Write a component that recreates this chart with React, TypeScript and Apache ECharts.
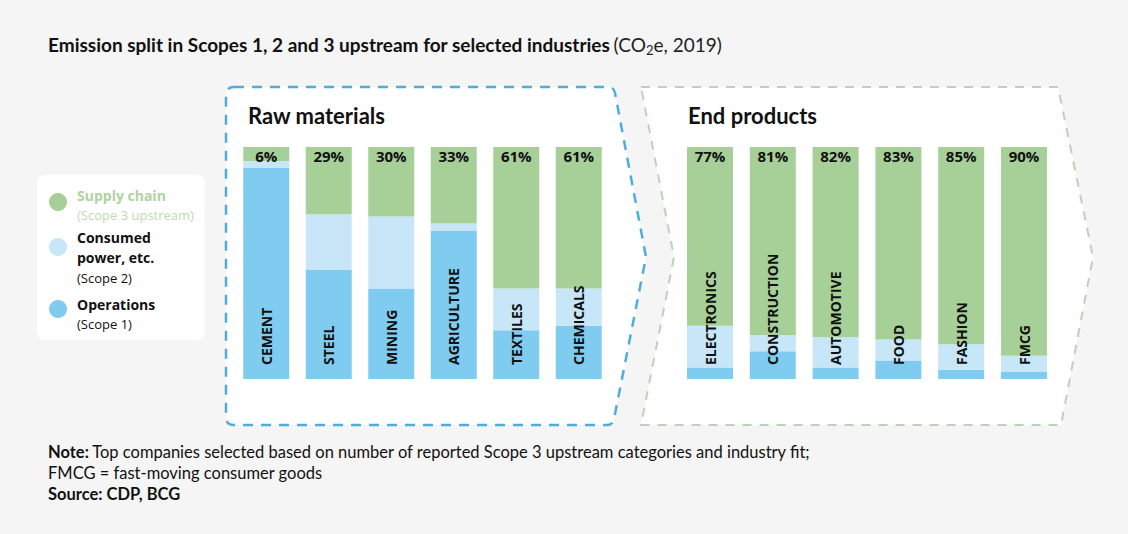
import React, { useEffect, useRef } from "react";
import * as echarts from "echarts";

const rawCats = ["CEMENT", "STEEL", "MINING", "AGRICULTURE", "TEXTILES", "CHEMICALS"];
const rawScope3 = [6, 29, 30, 33, 61, 61];
const rawScope2 = [3, 24, 31, 3, 18, 16];
const rawScope1 = [91, 47, 39, 64, 21, 23];

const endCats = ["ELECTRONICS", "CONSTRUCTION", "AUTOMOTIVE", "FOOD", "FASHION", "FMCG"];
const endScope3 = [77, 81, 82, 83, 85, 90];
const endScope2 = [18, 7, 13, 9, 11, 7];
const endScope1 = [5, 12, 5, 8, 4, 3];

const GREEN = "#a6d098";
const LIGHT = "#c7e6f8";
const BLUE = "#80cbf0";

const rawPath =
  "M 234 87 L 608 87 Q 614 87 615 93 L 646 257 L 614 419 Q 613 425 607 425 L 234 425 Q 226 425 226 417 L 226 95 Q 226 87 234 87 Z";
const endPath = "M 641 87 L 1058 87 L 1093 257 L 1061 425 L 641 425 L 674 257 Z";

let registered = false;
function registerShapes() {
  if (registered) return;
  echarts.graphic.registerShape("rawPanel", echarts.graphic.extendPath(rawPath, {}) as any);
  echarts.graphic.registerShape("endPanel", echarts.graphic.extendPath(endPath, {}) as any);
  registered = true;
}

export default function App() {
  const ref = useRef<HTMLDivElement>(null);
  useEffect(() => {
    document.body.style.margin = "0";
    registerShapes();
    const chart = echarts.init(ref.current!, null, { renderer: "svg" });
    const xAxisBase = (cats: string[], gridIndex: number) => ({
      type: "category",
      data: cats,
      gridIndex,
      z: 10,
      axisLine: { show: false },
      axisTick: { show: false },
      axisLabel: {
        inside: true,
        rotate: 90,
        margin: 14,
        fontFamily: "Open Sans",
        fontWeight: "bold",
        fontSize: 14,
        color: "#111",
      },
    });
    const yAxisBase = (gridIndex: number) => ({
      type: "value",
      gridIndex,
      min: 0,
      max: 100,
      show: false,
    });
    const pctLabel = {
      show: true,
      position: "insideTop",
      distance: 1,
      formatter: "{c}%",
      fontFamily: "Open Sans",
      fontWeight: "bold",
      fontSize: 15,
      color: "#111",
    };
    const mk = (name: string, data: number[], color: string, idx: number, stack: string, label?: any) => ({
      type: "bar",
      name,
      data,
      stack,
      xAxisIndex: idx,
      yAxisIndex: idx,
      barWidth: 46,
      itemStyle: { color },
      label: label || { show: false },
      emphasis: { disabled: true },
    });
    const font = "Lato";
    const noteSize = 16.5;
    chart.setOption({
      animation: false,
      backgroundColor: "#f5f5f5",
      grid: [
        { left: 235, top: 147, width: 375, height: 232 },
        { left: 678.6, top: 147, width: 376.8, height: 232 },
      ],
      xAxis: [xAxisBase(rawCats, 0), xAxisBase(endCats, 1)],
      yAxis: [yAxisBase(0), yAxisBase(1)],
      series: [
        mk("Operations (Scope 1)", rawScope1, BLUE, 0, "raw"),
        mk("Consumed power, etc. (Scope 2)", rawScope2, LIGHT, 0, "raw"),
        mk("Supply chain (Scope 3 upstream)", rawScope3, GREEN, 0, "raw", pctLabel),
        mk("Operations (Scope 1)", endScope1, BLUE, 1, "end"),
        mk("Consumed power, etc. (Scope 2)", endScope2, LIGHT, 1, "end"),
        mk("Supply chain (Scope 3 upstream)", endScope3, GREEN, 1, "end", pctLabel),
      ],
      graphic: [
        {
          type: "endPanel",
          x: 0,
          y: 0,
          z: 0,
          silent: true,
          style: { fill: "#ffffff", stroke: "#bcd4b6", lineWidth: 2, lineDash: [9, 8] },
        },
        {
          type: "rawPanel",
          x: 0,
          y: 0,
          z: 1,
          silent: true,
          style: { fill: "#ffffff", stroke: "#4eaedb", lineWidth: 2.5, lineDash: [10, 8] },
        },
        {
          type: "text",
          x: 48,
          y: 44,
          z: 5,
          style: {
            text: "{b|Emission split in Scopes 1, 2 and 3 upstream for selected industries} {r|(CO}{s|2}{r|e, 2019)}",
            verticalAlign: "middle",
            rich: {
              b: { fontFamily: font, fontWeight: "bold", fontSize: 19, fill: "#111", lineHeight: 24 },
              r: { fontFamily: font, fontSize: 19, fill: "#222", lineHeight: 24 },
              s: { fontFamily: font, fontSize: 13, fill: "#222", lineHeight: 13, verticalAlign: "bottom" },
            },
          },
        },
        {
          type: "text",
          x: 248,
          y: 115,
          z: 5,
          style: { text: "Raw materials", fontFamily: font, fontWeight: "bold", fontSize: 22, fill: "#111", verticalAlign: "middle" },
        },
        {
          type: "text",
          x: 688,
          y: 115,
          z: 5,
          style: { text: "End products", fontFamily: font, fontWeight: "bold", fontSize: 22, fill: "#111", verticalAlign: "middle" },
        },
        {
          type: "rect",
          z: 1,
          shape: { x: 37, y: 175, width: 168, height: 165, r: 8 },
          style: { fill: "#ffffff" },
        },
        { type: "circle", z: 5, shape: { cx: 58, cy: 202, r: 9 }, style: { fill: GREEN } },
        { type: "circle", z: 5, shape: { cx: 58, cy: 247, r: 9 }, style: { fill: LIGHT } },
        { type: "circle", z: 5, shape: { cx: 58, cy: 309, r: 9 }, style: { fill: BLUE } },
        {
          type: "text", x: 77, y: 195, z: 5,
          style: { text: "Supply chain", fontFamily: "Open Sans", fontWeight: "bold", fontSize: 14, fill: "#add4a0", verticalAlign: "middle" },
        },
        {
          type: "text", x: 77, y: 215, z: 5,
          style: { text: "(Scope 3 upstream)", fontFamily: "Open Sans", fontSize: 13, fill: "#bcdbb1", verticalAlign: "middle" },
        },
        {
          type: "text", x: 77, y: 237, z: 5,
          style: { text: "Consumed", fontFamily: "Open Sans", fontWeight: "bold", fontSize: 14, fill: "#111", verticalAlign: "middle" },
        },
        {
          type: "text", x: 77, y: 257, z: 5,
          style: { text: "power, etc.", fontFamily: "Open Sans", fontWeight: "bold", fontSize: 14, fill: "#111", verticalAlign: "middle" },
        },
        {
          type: "text", x: 77, y: 278, z: 5,
          style: { text: "(Scope 2)", fontFamily: "Open Sans", fontSize: 13, fill: "#111", verticalAlign: "middle" },
        },
        {
          type: "text", x: 77, y: 304, z: 5,
          style: { text: "Operations", fontFamily: "Open Sans", fontWeight: "bold", fontSize: 14, fill: "#111", verticalAlign: "middle" },
        },
        {
          type: "text", x: 77, y: 324, z: 5,
          style: { text: "(Scope 1)", fontFamily: "Open Sans", fontSize: 13, fill: "#111", verticalAlign: "middle" },
        },
        {
          type: "text", x: 48, y: 452, z: 5,
          style: {
            text: "{b|Note:} {r|Top companies selected based on number of reported Scope 3 upstream categories and industry fit;}",
            verticalAlign: "middle",
            rich: {
              b: { fontFamily: font, fontWeight: "bold", fontSize: noteSize, fill: "#111" },
              r: { fontFamily: font, fontSize: noteSize, fill: "#111" },
            },
          },
        },
        {
          type: "text", x: 48, y: 473, z: 5,
          style: { text: "FMCG = fast-moving consumer goods", fontFamily: font, fontSize: noteSize, fill: "#111", verticalAlign: "middle" },
        },
        {
          type: "text", x: 48, y: 494, z: 5,
          style: { text: "Source: CDP, BCG", fontFamily: font, fontWeight: "bold", fontSize: noteSize, fill: "#111", verticalAlign: "middle" },
        },
      ],
    });
    return () => chart.dispose();
  }, []);
  return <div ref={ref} style={{ width: 1128, height: 534 }} />;
}
